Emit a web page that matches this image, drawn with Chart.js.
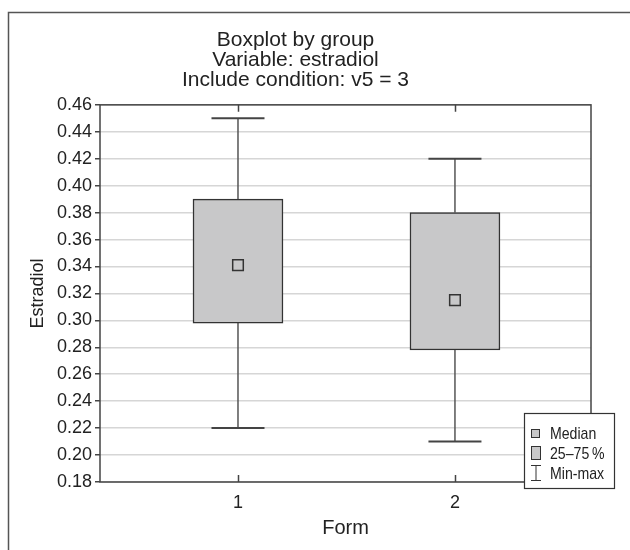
<!DOCTYPE html>
<html>
<head>
<meta charset="utf-8">
<script src="https://cdn.jsdelivr.net/npm/chart.js@4"></script>
<style>
  html, body { margin: 0; padding: 0; background: #fff; }
  #wrap { width: 630px; height: 550px; position: relative; }
</style>
</head>
<body>
<div id="wrap"><canvas id="boxChart"></canvas></div>
<script>
// groups (Form) and the five-number summaries
const groups  = ['1', '2'];
const mins    = [0.220, 0.210];
const q1s     = [0.298, 0.278];
const medians = [0.341, 0.315];
const q3s     = [0.390, 0.380];
const maxs    = [0.450, 0.420];
const yTicks  = [0.18, 0.20, 0.22, 0.24, 0.26, 0.28, 0.30, 0.32, 0.34, 0.36, 0.38, 0.40, 0.42, 0.44, 0.46];

const FONT = '"Liberation Sans", Arial, Helvetica, sans-serif';
const INK = '#222';
const BOX_FILL = '#c8c8c9';

const xs = groups.map((g, i) => i + 1);

// whiskers: q3→max and q1→min, broken with null between groups
const whiskerPts = [];
xs.forEach((x, i) => {
  whiskerPts.push({ x, y: q3s[i] }, { x, y: maxs[i] }, { x, y: null });
  whiskerPts.push({ x, y: q1s[i] }, { x, y: mins[i] }, { x, y: null });
});

// frame, plot border, inside x ticks, legend
const decor = {
  id: 'decor',
  afterDraw(chart) {
    const { ctx, chartArea: a, scales } = chart;
    ctx.save();
    ctx.strokeStyle = '#444';
    ctx.lineWidth = 1.5;
    ctx.strokeRect(a.left, a.top, a.right - a.left, a.bottom - a.top);
    // x ticks pointing inward at top and bottom
    xs.forEach(v => {
      const px = Math.round(scales.x.getPixelForValue(v)) + 0.5;
      ctx.beginPath();
      ctx.moveTo(px, a.top); ctx.lineTo(px, a.top + 7);
      ctx.moveTo(px, a.bottom); ctx.lineTo(px, a.bottom - 7);
      ctx.stroke();
    });
    // outer frame
    ctx.strokeStyle = '#555';
    ctx.strokeRect(8.5, 12.5, 700, 600);

    // legend
    const L = 524.5, T = 413.5;
    ctx.fillStyle = '#fff';
    ctx.fillRect(L, T, 90, 75);
    ctx.strokeStyle = '#333';
    ctx.lineWidth = 1.2;
    ctx.strokeRect(L, T, 90, 75);
    ctx.fillStyle = BOX_FILL;
    ctx.lineWidth = 1;
    ctx.fillRect(531.5, 429.5, 8, 8);
    ctx.strokeRect(531.5, 429.5, 8, 8);
    ctx.fillRect(531.5, 446.5, 9, 13);
    ctx.strokeRect(531.5, 446.5, 9, 13);
    ctx.beginPath();
    ctx.moveTo(536, 465); ctx.lineTo(536, 481);
    ctx.moveTo(531, 465.5); ctx.lineTo(541, 465.5);
    ctx.moveTo(531, 480.5); ctx.lineTo(541, 480.5);
    ctx.stroke();
    // narrow lettering, like the reference
    ctx.fillStyle = INK;
    ctx.font = '17px ' + FONT;
    ctx.textBaseline = 'middle';
    ctx.translate(550, 0);
    ctx.scale(0.83, 1);
    ctx.fillText('Median', 0, 434);
    ctx.fillText('25\u201375\u2009%', 0, 454);
    ctx.fillText('Min-max', 0, 474);
    ctx.restore();
  }
};

new Chart(document.getElementById('boxChart'), {
  type: 'bar',
  data: {
    datasets: [
      {
        type: 'scatter',
        label: 'Median',
        data: xs.map((x, i) => ({ x, y: medians[i] })),
        pointStyle: 'rect',
        pointRadius: 7.5,
        backgroundColor: BOX_FILL,
        borderColor: '#333',
        borderWidth: 1.5,
        order: 0
      },
      {
        type: 'bar',
        label: '25\u201375 %',
        data: xs.map((x, i) => ({ x, y: [q1s[i], q3s[i]] })),
        backgroundColor: BOX_FILL,
        borderColor: '#333',
        borderWidth: 1.5,
        borderSkipped: false,
        barThickness: 90,
        order: 2
      },
      {
        type: 'line',
        label: 'whisker',
        data: whiskerPts,
        borderColor: '#555',
        borderWidth: 1.5,
        pointRadius: 0,
        spanGaps: false,
        order: 3
      },
      {
        type: 'scatter',
        label: 'Min-max',
        data: xs.flatMap((x, i) => [{ x, y: maxs[i] }, { x, y: mins[i] }]),
        pointStyle: 'line',
        pointRadius: 26.5,
        borderColor: '#444',
        borderWidth: 2,
        order: 1
      }
    ]
  },
  options: {
    responsive: true,
    maintainAspectRatio: false,
    animation: false,
    layout: { padding: { left: 0, right: 39, top: 0, bottom: 0 } },
    plugins: {
      legend: { display: false },
      tooltip: { enabled: false },
      title: {
        display: true,
        text: ['Boxplot by group', 'Variable: estradiol', 'Include condition: v5 = 3'],
        color: INK,
        font: { family: FONT, size: 21, weight: 'normal', lineHeight: 0.95 },
        padding: { top: 30, bottom: 15 }
      }
    },
    scales: {
      x: {
        type: 'linear',
        offset: false,
        min: 0.364,
        max: 2.627,
        afterBuildTicks: s => { s.ticks = xs.map(v => ({ value: v })); },
        afterFit: s => { s.height = 68; },
        grid: { display: false, drawTicks: false, offset: false },
        border: { display: false },
        ticks: {
          padding: 10,
          color: INK,
          font: { family: FONT, size: 18 },
          callback: v => groups[v - 1]
        },
        title: {
          display: true,
          text: 'Form',
          color: INK,
          font: { family: FONT, size: 20 },
          padding: { top: 0, bottom: 10 }
        }
      },
      y: {
        min: 0.18,
        max: 0.46,
        afterBuildTicks: s => { s.ticks = yTicks.map(v => ({ value: v })); },
        afterFit: s => { s.width = 100; },
        grid: { color: '#d6d6d6', lineWidth: 1.5, tickLength: 5, tickColor: '#444', tickWidth: 1.5 },
        border: { display: false },
        ticks: {
          padding: 3,
          color: INK,
          font: { family: FONT, size: 18 },
          callback: v => v.toFixed(2)
        },
        title: {
          display: true,
          text: 'Estradiol',
          color: INK,
          font: { family: FONT, size: 18 },
          padding: { top: 27, bottom: 0 }
        }
      }
    }
  },
  plugins: [decor]
});
</script>
</body>
</html>
